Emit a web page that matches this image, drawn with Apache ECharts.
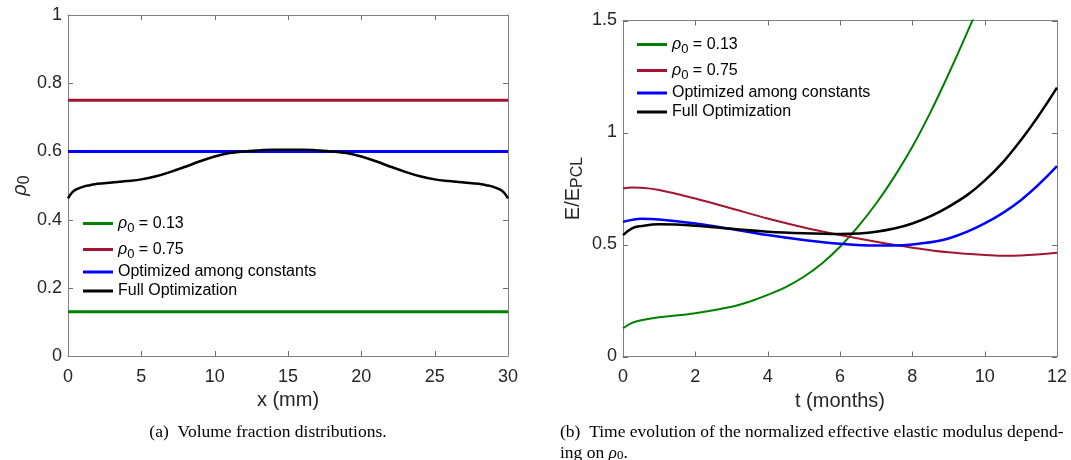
<!DOCTYPE html>
<html>
<head>
<meta charset="utf-8">
<script src="https://cdn.jsdelivr.net/npm/echarts@6/dist/echarts.min.js"></script>
<style>
  html, body { margin: 0; background: #fff; }
  #container { width: 1071px; height: 460px; }
</style>
</head>
<body>
<div id="container"></div>
<script>
/* (a) volume fraction, x in mm */
const xConst = [0, 30];
const rhoLow = [0.13, 0.13];
const rhoHigh = [0.75, 0.75];
const rhoOpt = [0.6, 0.6];
const xFull = [0, 0.25, 0.5, 1, 1.5, 2, 3, 4, 5, 6, 7, 8, 9, 10, 11, 12, 13, 14, 15, 16, 17, 18, 19, 20, 21, 22, 23, 24, 25, 26, 27, 28, 28.5, 29, 29.5, 29.75, 30];
const rhoFull = [0.462, 0.478, 0.487, 0.496, 0.501, 0.505, 0.509, 0.513, 0.518, 0.527, 0.540, 0.555, 0.571, 0.585, 0.595, 0.600, 0.603, 0.605, 0.605, 0.605, 0.603, 0.600, 0.595, 0.585, 0.571, 0.555, 0.540, 0.527, 0.518, 0.513, 0.509, 0.505, 0.501, 0.496, 0.487, 0.478, 0.462];

/* (b) normalized modulus, t in months */
const tLow = [0, 0.25, 0.5, 1, 2, 3, 3.5, 4, 4.5, 5, 5.5, 6, 6.5, 7, 7.5, 8, 8.5, 9, 9.5, 10];
const eLow = [0.126, 0.150, 0.162, 0.175, 0.193, 0.222, 0.245, 0.275, 0.31, 0.356, 0.415, 0.49, 0.58, 0.683, 0.802, 0.936, 1.09, 1.26, 1.44, 1.63];
const tHigh = [0, 0.25, 0.5, 1, 2, 3, 4, 5, 6, 7, 8, 9, 10, 10.5, 11, 12];
const eHigh = [0.750, 0.754, 0.753, 0.743, 0.705, 0.661, 0.616, 0.576, 0.542, 0.512, 0.486, 0.465, 0.453, 0.450, 0.451, 0.463];
const tOpt = [0, 0.25, 0.5, 1, 2, 3, 4, 5, 6, 7, 7.5, 8, 9, 10, 11, 12];
const eOpt = [0.601, 0.610, 0.615, 0.612, 0.594, 0.569, 0.542, 0.520, 0.503, 0.495, 0.495, 0.500, 0.527, 0.594, 0.698, 0.850];
const tFull = [0, 0.25, 0.5, 1, 2, 3, 4, 5, 6, 7, 8, 9, 10, 11, 12];
const eFull = [0.542, 0.572, 0.582, 0.590, 0.584, 0.570, 0.557, 0.550, 0.547, 0.557, 0.594, 0.668, 0.785, 0.965, 1.200];

/* tick values */
const xTicksA = [0, 5, 10, 15, 20, 25, 30];
const yTicksA = [0, 0.2, 0.4, 0.6, 0.8, 1];
const xTicksB = [0, 2, 4, 6, 8, 10, 12];
const yTicksB = [0, 0.5, 1, 1.5];

const names = ['ρ0 = 0.13', 'ρ0 = 0.75', 'Optimized among constants', 'Full Optimization'];
const colors = ['#008000', '#A2142F', '#0000FF', '#000000'];

const FONT = 'Liberation Sans';
const axisGray = '#808080';
const TICK_LEN = 5;

function pairs(xs, ys) {
    return xs.map((x, i) => [x, ys[i]]);
}

// main axis with labels (ticks are drawn by hand below)
function mainAxis(grid, pos, min, max, interval, name, gap, nameRich) {
    return {
        type: 'value', gridIndex: grid, position: pos,
        min: min, max: max, interval: interval,
        name: name, nameLocation: 'middle', nameGap: gap,
        nameTextStyle: { fontFamily: FONT, fontSize: 20, color: '#262626', rich: nameRich },
        axisLine: { show: true, onZero: false, lineStyle: { color: axisGray, width: 1 } },
        axisTick: { show: false },
        axisLabel: { fontFamily: FONT, fontSize: 18, color: '#262626', margin: pos === 'bottom' ? 12 : 6 },
        splitLine: { show: false }
    };
}

// box edges on top / right
function boxAxis(grid, pos, min, max, interval) {
    return {
        type: 'value', gridIndex: grid, position: pos,
        min: min, max: max, interval: interval,
        axisLine: { show: true, onZero: false, lineStyle: { color: axisGray, width: 1 } },
        axisTick: { show: false },
        axisLabel: { show: false },
        splitLine: { show: false }
    };
}

const legendRich = {
    t: { fontFamily: FONT, fontSize: 16, color: '#000', lineHeight: 18 },
    g: { fontFamily: FONT, fontSize: 16, fontStyle: 'italic', color: '#000', lineHeight: 18 },
    s: { fontFamily: FONT, fontSize: 13, color: '#000', lineHeight: 16, padding: [10, 0, 0, 0] }
};

function legendBox(left, top) {
    return {
        data: names, orient: 'vertical', left: left, top: top,
        padding: 0, itemGap: 3, itemWidth: 30, itemHeight: 3, icon: 'rect',
        selectedMode: false,
        formatter: function (n) {
            if (n.indexOf('ρ0') === 0) {
                return '{g|ρ}{s|0}{t| ' + n.slice(3) + '}';
            }
            return '{t|' + n + '}';
        },
        textStyle: { rich: legendRich }
    };
}

function lineSeries(name, xi, yi, data, color, width, smooth) {
    return {
        name: name, type: 'line', xAxisIndex: xi, yAxisIndex: yi,
        data: data, showSymbol: false, smooth: smooth,
        lineStyle: { color: color, width: width },
        itemStyle: { color: color },
        animation: false
    };
}

const captions = [
    {
        type: 'text', x: 268, y: 432,
        style: {
            text: '(a)  Volume fraction distributions.',
            font: '17.5px "Liberation Serif"', fill: '#000',
            textAlign: 'center', textVerticalAlign: 'middle'
        }
    },
    {
        type: 'text', x: 560, y: 432,
        style: {
            text: '(b)  Time evolution of the normalized effective elastic modulus depend-',
            font: '17.5px "Liberation Serif"', fill: '#000',
            textAlign: 'left', textVerticalAlign: 'middle'
        }
    },
    {
        type: 'text', x: 560, y: 453,
        style: {
            text: '{t|ing on }{g|ρ}{s|0}{t|.}',
            textAlign: 'left', textVerticalAlign: 'middle',
            rich: {
                t: { font: '17.5px "Liberation Serif"', fill: '#000' },
                g: { font: 'italic 17.5px "Liberation Serif"', fill: '#000' },
                s: { font: '13px "Liberation Serif"', fill: '#000', padding: [6, 0, 0, 0] }
            }
        }
    }
];

const dom = document.getElementById('container');
const myChart = echarts.init(dom);

const option = {
    backgroundColor: '#fff',
    animation: false,
    grid: [
        { left: 68, top: 15, width: 440, height: 341 },
        { left: 623, top: 20.5, width: 434, height: 336 }
    ],
    xAxis: [
        mainAxis(0, 'bottom', 0, 30, 5, 'x (mm)', 34),
        boxAxis(0, 'top', 0, 30, 5),
        mainAxis(1, 'bottom', 0, 12, 2, 't (months)', 34),
        boxAxis(1, 'top', 0, 12, 2)
    ],
    yAxis: [
        mainAxis(0, 'left', 0, 1, 0.2, '{g|ρ}{s|0}', 31, {
            g: { fontFamily: FONT, fontSize: 20, fontStyle: 'italic', color: '#262626', lineHeight: 20 },
            s: { fontFamily: FONT, fontSize: 16, color: '#262626', lineHeight: 18, padding: [10, 0, 0, 0] }
        }),
        boxAxis(0, 'right', 0, 1, 0.2),
        mainAxis(1, 'left', 0, 1.5, 0.5, '{n|E/E}{s|PCL}', 40, {
            n: { fontFamily: FONT, fontSize: 20, color: '#262626', lineHeight: 20 },
            s: { fontFamily: FONT, fontSize: 16, color: '#262626', lineHeight: 18, padding: [10, 0, 0, 0] }
        }),
        boxAxis(1, 'right', 0, 1.5, 0.5)
    ],
    legend: [legendBox(83, 212), legendBox(637, 33)],
    series: [
        lineSeries(names[0], 0, 0, pairs(xConst, rhoLow), colors[0], 3, false),
        lineSeries(names[1], 0, 0, pairs(xConst, rhoHigh), colors[1], 3, false),
        lineSeries(names[2], 0, 0, pairs(xConst, rhoOpt), colors[2], 3, false),
        lineSeries(names[3], 0, 0, pairs(xFull, rhoFull), colors[3], 2.5, 0.4),
        lineSeries(names[0], 2, 2, pairs(tLow, eLow), colors[0], 2, 0.4),
        lineSeries(names[1], 2, 2, pairs(tHigh, eHigh), colors[1], 2, 0.4),
        lineSeries(names[2], 2, 2, pairs(tOpt, eOpt), colors[2], 2.5, 0.4),
        lineSeries(names[3], 2, 2, pairs(tFull, eFull), colors[3], 2.5, 0.4)
    ],
    graphic: captions
};

myChart.setOption(option, true);

/* inward ticks on all four box sides, placed through the axes' own scales */
function boxTicks(xi, yi, xTicks, yTicks, xMax, yMax) {
    const out = [];
    const x0 = myChart.convertToPixel({ xAxisIndex: xi }, 0);
    const x1 = myChart.convertToPixel({ xAxisIndex: xi }, xMax);
    const y0 = myChart.convertToPixel({ yAxisIndex: yi }, 0);
    const y1 = myChart.convertToPixel({ yAxisIndex: yi }, yMax);
    const st = { stroke: '#707070', lineWidth: 1 };
    xTicks.forEach(v => {
        const px = Math.round(myChart.convertToPixel({ xAxisIndex: xi }, v)) + 0.5;
        out.push({ type: 'line', silent: true, shape: { x1: px, y1: y0, x2: px, y2: y0 - TICK_LEN }, style: st });
        out.push({ type: 'line', silent: true, shape: { x1: px, y1: y1, x2: px, y2: y1 + TICK_LEN }, style: st });
    });
    yTicks.forEach(v => {
        const py = Math.round(myChart.convertToPixel({ yAxisIndex: yi }, v)) + 0.5;
        out.push({ type: 'line', silent: true, shape: { x1: x0, y1: py, x2: x0 + TICK_LEN, y2: py }, style: st });
        out.push({ type: 'line', silent: true, shape: { x1: x1, y1: py, x2: x1 - TICK_LEN, y2: py }, style: st });
    });
    return out;
}

const ticks = boxTicks(0, 0, xTicksA, yTicksA, 30, 1).concat(boxTicks(2, 2, xTicksB, yTicksB, 12, 1.5));
myChart.setOption({ graphic: captions.concat(ticks) });
</script>
</body>
</html>
